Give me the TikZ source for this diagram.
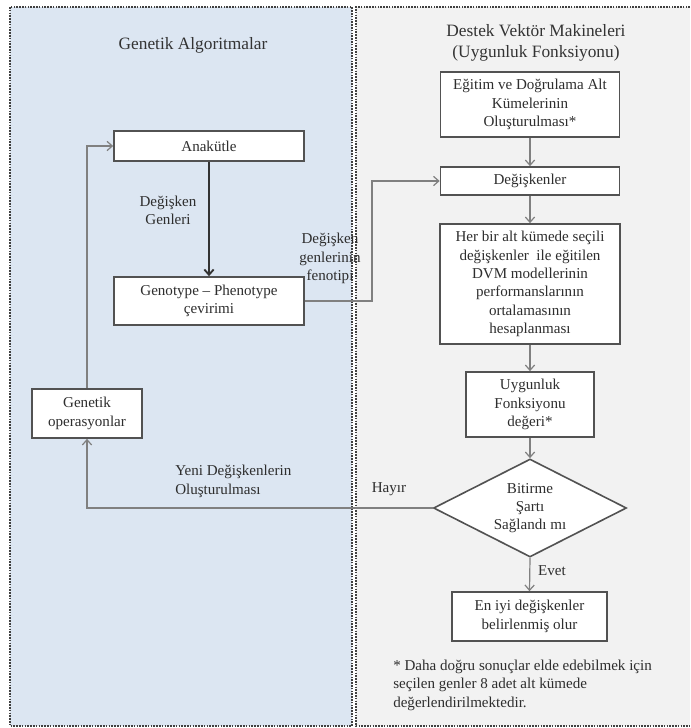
\documentclass[tikz,border=0pt]{standalone}
\usepackage{fontspec}
\setmainfont{Liberation Serif}
\usetikzlibrary{arrows.meta,shapes.geometric}
\definecolor{gablue}{RGB}{220,230,242}
\definecolor{svmgray}{RGB}{242,242,242}
\begin{document}
\begin{tikzpicture}[x=0.75pt,y=-0.75pt,
  txt/.style={font=\fontsize{11.3}{13.7}\selectfont, text=black!82},
  box/.style={txt, draw=black!68, line width=1.2pt, fill=white, align=center, inner sep=0pt},
  lbl/.style={txt, align=center, inner sep=0pt},
  conn/.style={draw=black!50, line width=0.9pt},
  arr/.style={conn, -{Straight Barb[length=4pt,width=7pt]}},
  mainarr/.style={draw=black!80, line width=1.4pt, -{Straight Barb[length=4pt,width=7pt]}},
  panel/.style={draw=black!75, line width=1pt, dash pattern=on 1.2pt off 0.9pt},
  ttl/.style={font=\fontsize{13}{15.75}\selectfont, text=black!80, align=center, inner sep=0pt}
]
\useasboundingbox (0,0) rectangle (690,728);
% panels
\fill[gablue] (10,7) rectangle (352,726);
\fill[svmgray] (356,7) rectangle (690,726);
\draw[panel] (10,7) rectangle (352,726);
\draw[panel] (690,7) -- (356,7) -- (356,726) -- (690,726);

% titles
\node[ttl] (t1) at (193,45) {Genetik Algoritmalar};
\node[ttl] (t2) at (536,42.5) {Destek Vektör Makineleri\\(Uygunluk Fonksiyonu)};

% right column
\node[box, minimum width=179*0.75pt, minimum height=65*0.75pt] (egitim) at (530,104.5)
  {Eğitim ve Doğrulama Alt\\Kümelerinin\\Oluşturulması*};
\node[box, minimum width=179*0.75pt, minimum height=28*0.75pt] (degisken) at (530,181)
  {Değişkenler};
\node[box, minimum width=180*0.75pt, minimum height=120*0.75pt] (herbir) at (530,284)
  {Her bir alt kümede seçili\\değişkenler~ ile eğitilen\\DVM modellerinin\\performanslarının\\ortalamasının\\hesaplanması};
\node[box, minimum width=128*0.75pt, minimum height=65*0.75pt] (uygunluk) at (530,404.5)
  {Uygunluk\\Fonksiyonu\\değeri*};
\node[box, diamond, aspect=2, minimum width=193*0.75pt, minimum height=98*0.75pt] (dia) at (530,508)
  {Bitirme\\Şartı\\Sağlandı mı};
\node[box, minimum width=155*0.75pt, minimum height=49*0.75pt] (eniyi) at (529.5,616.5)
  {En iyi değişkenler\\belirlenmiş olur};

% left column
\node[box, minimum width=190*0.75pt, minimum height=30*0.75pt] (anakutle) at (209,146)
  {Anakütle};
\node[box, minimum width=190*0.75pt, minimum height=48*0.75pt] (genotype) at (209,301)
  {Genotype -- Phenotype\\çevirimi};
\node[box, minimum width=110*0.75pt, minimum height=49*0.75pt] (genetik) at (87,413.5)
  {Genetik\\operasyonlar};

% connectors
\draw[arr] (egitim.south) -- (degisken.north);
\draw[arr] (degisken.south) -- (herbir.north);
\draw[arr] (herbir.south) -- (uygunluk.north);
\draw[arr] (uygunluk.south) -- (dia.north);
\draw[arr] (dia.south) -- (eniyi.north);
\draw[mainarr] (anakutle.south) -- (genotype.north);
\coordinate (gx) at (372,0);
\draw[arr] (genotype.east) -| (gx |- degisken.west) -- (degisken.west);
\draw[arr] (dia.west) -| (genetik.south);
\draw[arr] (genetik.north) |- (anakutle.west);

% labels
\node[lbl] (l1) at (168,210) {Değişken\\Genleri};
\node[lbl] (l2) at (330,258.5) {Değişken\\genlerinin\\fenotipi};
\node[lbl, align=left, anchor=base west] (l3) at (175,494) {Yeni Değişkenlerin\\Oluşturulması};
\node[lbl] (l4) at (389,489) {Hayır};
\node[lbl] (l5) at (552,571) {Evet};
\node[lbl, align=left, anchor=base west] (foot) at (393,707)
  {* Daha doğru sonuçlar elde edebilmek için\\seçilen genler 8 adet alt kümede\\değerlendirilmektedir.};
\end{tikzpicture}
\end{document}
